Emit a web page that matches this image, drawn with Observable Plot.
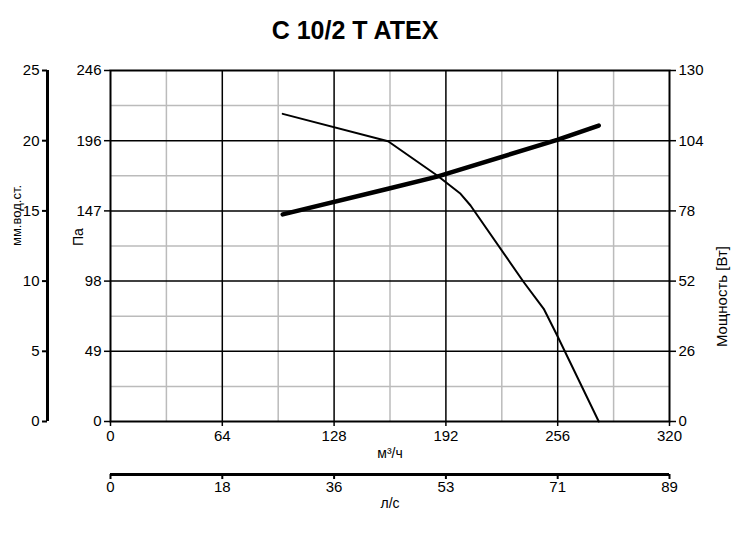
<!DOCTYPE html>
<html><head><meta charset="utf-8">
<script src="https://cdn.jsdelivr.net/npm/d3@7"></script>
<script src="https://cdn.jsdelivr.net/npm/@observablehq/plot@0.6"></script>
<style>
body{margin:0;background:#fff;font-family:"Liberation Sans",Arial,sans-serif;}
#title{width:710px;height:50px;text-align:center;font-weight:bold;font-size:25px;line-height:60px;}
</style></head><body>
<div id="title">C 10/2 T ATEX</div>
<div id="chart"></div>
<script>
const flowPress = [98.6, 158.9, 187.0, 200.4, 206.1, 236.6, 248.0, 255.7, 279.5];
const pressure  = [215.6, 196.4, 172.4, 159.6, 151.4, 97.6, 79.0, 60.3, 0];
const flowPower = [98.6, 158.9, 187.0, 255.7, 279.5];
const power     = [76.7, 86.2, 90.7, 104.3, 109.6];

const xTicks = [0, 64, 128, 192, 256, 320];
const xMinor = [32, 96, 160, 224, 288];
const lsLabels = ["0", "18", "36", "53", "71", "89"];
const paTicks = [0, 49.2, 98.4, 147.6, 196.8, 246];
const paMinor = [24.6, 73.8, 123, 172.2, 221.4];
const paLabels = ["0", "49", "98", "147", "196", "246"];
const mmLabels = ["0", "5", "10", "15", "20", "25"];
const wLabels = ["0", "26", "52", "78", "104", "130"];
const paMax = 246, wMax = 130;

const pressData = flowPress.map((x, i) => ({x, y: pressure[i]}));
const powerData = flowPower.map((x, i) => ({x, y: power[i] * paMax / wMax}));

const chart = Plot.plot({
  width: 750, height: 484,
  marginTop: 20, marginLeft: 110, marginRight: 81, marginBottom: 113,
  style: {fontFamily: "Liberation Sans, Arial, sans-serif", fontSize: "15px", color: "#000", background: "#fff"},
  x: {domain: [0, 320], axis: null},
  y: {domain: [0, 246], axis: null},
  marks: [
    Plot.ruleX(xMinor, {stroke: "#bbb", strokeWidth: 1.5}),
    Plot.ruleY(paMinor, {stroke: "#bbb", strokeWidth: 1.5}),
    Plot.ruleX(xTicks.slice(1, -1), {stroke: "#000", strokeWidth: 1.5}),
    Plot.ruleY(paTicks.slice(1, -1), {stroke: "#000", strokeWidth: 1.5}),
    Plot.frame({stroke: "#000", strokeWidth: 2}),
    // Pa axis
    Plot.axisY({anchor: "left", ticks: paTicks, tickFormat: (d, i) => paLabels[i], tickSize: 6, tickPadding: 3, strokeWidth: 1.5, label: null}),
    Plot.text(["Па"], {frameAnchor: "left", dx: -32, rotate: -90, fontSize: 14}),
    // mm axis
    Plot.ruleX([0], {y1: 0, y2: 246, dx: -63, strokeWidth: 3}),
    Plot.axisY({anchor: "left", dx: -63, ticks: paTicks, tickFormat: (d, i) => mmLabels[i], tickSize: 5, tickPadding: 3, strokeWidth: 2, label: null}),
    Plot.text(["мм.вод.ст."], {frameAnchor: "left", dx: -94, rotate: -90, fontSize: 13}),
    // power axis
    Plot.axisY({anchor: "right", ticks: paTicks, tickFormat: (d, i) => wLabels[i], tickSize: 6, tickPadding: 3, strokeWidth: 1.5, label: null}),
    Plot.text(["Мощность [Вт]"], {frameAnchor: "right", dx: 53, rotate: -90, fontSize: 15}),
    // m3/h axis
    Plot.axisX({anchor: "bottom", ticks: xTicks, tickFormat: d => String(d), tickSize: 5, tickPadding: 4, strokeWidth: 1.5, label: null}),
    Plot.text(["м³/ч"], {frameAnchor: "bottom", dy: 36, fontSize: 14}),
    // l/s axis
    Plot.ruleY([0], {x1: 0, x2: 320, dy: 53, strokeWidth: 3}),
    Plot.axisX({anchor: "bottom", dy: 53, ticks: xTicks, tickFormat: (d, i) => lsLabels[i], tickSize: 5, tickPadding: 2, strokeWidth: 2, label: null}),
    Plot.text(["л/с"], {frameAnchor: "bottom", dy: 86, fontSize: 14}),
    // curves
    Plot.line(pressData, {x: "x", y: "y", stroke: "#000", strokeWidth: 2}),
    Plot.line(powerData, {x: "x", y: "y", stroke: "#000", strokeWidth: 4.5})
  ]
});
document.getElementById("chart").appendChild(chart);
</script></body></html>
